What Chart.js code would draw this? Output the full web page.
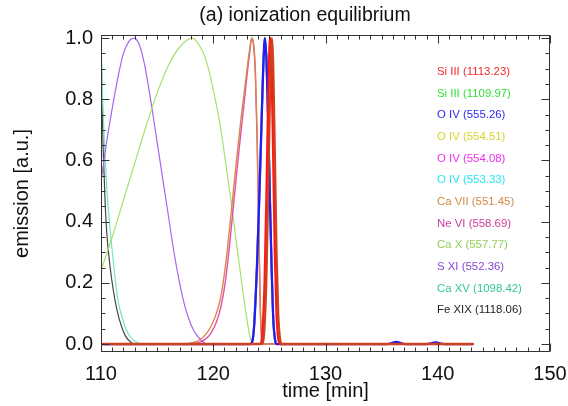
<!DOCTYPE html>
<html><head><meta charset="utf-8">
<script src="https://cdn.jsdelivr.net/npm/chart.js@4/dist/chart.umd.min.js"></script>
<style>html,body{margin:0;padding:0;background:#fff;overflow:hidden}canvas{display:block}</style>
</head><body>
<canvas id="c" width="568" height="406"></canvas>
<script>
// ---- text ----
const titleText = "(a) ionization equilibrium";
const xTitle = "time [min]";
const yTitle = "emission [a.u.]";
const xTickLabels = [110, 120, 130, 140, 150];
const yTickLabels = [0.0, 0.2, 0.4, 0.6, 0.8, 1.0];
const seriesNames = ["Si III (1113.23)", "Si III (1109.97)", "O IV (555.26)", "O IV (554.51)", "O IV (554.08)", "O IV (553.33)",
  "Ca VII (551.45)", "Ne VI (558.69)", "Ca X (557.77)", "S XI (552.36)", "Ca XV (1098.42)", "Fe XIX (1118.06)"];
const legendColors = ["#f22a2a", "#36e036", "#2a2af0", "#d6d628", "#f02cf0", "#28e4f0",
  "#d08a46", "#c83c9c", "#92d052", "#8a46d2", "#34c890", "#222222"];

// ---- data (time [min], emission [a.u.]) ----
const siIII1113_t = [110, 124.2, 124.4, 124.6, 124.8, 124.95, 125.08, 125.2, 125.35, 125.5, 125.65, 125.8, 125.95, 143.1];
const siIII1113_v = [0, 0, 0.04, 0.22, 0.58, 0.88, 1.0, 0.92, 0.62, 0.3, 0.1, 0.02, 0, 0];
const siIII1110_t = [110, 124.35, 124.55, 124.75, 124.95, 125.1, 125.23, 125.35, 125.5, 125.65, 125.8, 125.95, 126.1, 143.1];
const siIII1110_v = [0, 0, 0.04, 0.22, 0.58, 0.88, 1.0, 0.92, 0.62, 0.3, 0.1, 0.02, 0, 0];
const oIV555_t = [110, 123.3, 123.6, 123.9, 124.1, 124.3, 124.45, 124.6, 124.75, 124.9, 125.05, 125.2, 125.35, 125.5, 125.65, 135.5, 136.3, 137.1, 139.0, 139.8, 140.6, 143.1];
const oIV555_v = [0, 0, 0.04, 0.26, 0.48, 0.72, 0.9, 1.0, 0.92, 0.72, 0.47, 0.25, 0.08, 0.015, 0, 0, 0.007, 0, 0, 0.005, 0, 0];
const oIV554a_t = [110, 123.3, 123.6, 123.9, 124.1, 124.3, 124.45, 124.6, 124.75, 124.9, 125.05, 125.2, 125.35, 125.5, 125.65, 143.1];
const oIV554a_v = [0, 0, 0.04, 0.26, 0.48, 0.72, 0.9, 1.0, 0.92, 0.72, 0.47, 0.25, 0.08, 0.015, 0, 0];
const oIV554b_t = [110, 123.3, 123.6, 123.9, 124.1, 124.3, 124.45, 124.6, 124.75, 124.9, 125.05, 125.2, 125.35, 125.5, 125.65, 143.1];
const oIV554b_v = [0, 0, 0.04, 0.26, 0.48, 0.72, 0.9, 1.0, 0.92, 0.72, 0.47, 0.25, 0.08, 0.015, 0, 0];
const oIV553_t = [110, 123.3, 123.6, 123.9, 124.1, 124.3, 124.45, 124.6, 124.75, 124.9, 125.05, 125.2, 125.35, 125.5, 125.65, 143.1];
const oIV553_v = [0, 0, 0.04, 0.26, 0.48, 0.72, 0.9, 1.0, 0.92, 0.72, 0.47, 0.25, 0.08, 0.015, 0, 0];
const caVII_t = [110, 117.5, 118.3, 118.8, 119.3, 119.8, 120.2, 120.6, 120.9, 121.2, 121.6, 122.1, 122.5, 123.0, 123.25, 123.45, 123.6, 123.75, 123.9, 124.0, 124.1, 124.2, 124.3, 124.45, 143.1];
const caVII_v = [0, 0, 0.006, 0.014, 0.03, 0.058, 0.092, 0.142, 0.205, 0.29, 0.43, 0.61, 0.745, 0.895, 0.965, 1.0, 0.98, 0.9, 0.7, 0.5, 0.3, 0.12, 0.03, 0, 0];
const neVI_t = [110, 118.0, 118.8, 119.3, 119.8, 120.3, 120.7, 121.1, 121.5, 121.9, 122.3, 122.7, 123.0, 123.25, 123.42, 123.6, 123.75, 123.9, 124.0, 124.1, 124.2, 124.35, 143.1];
const neVI_v = [0, 0, 0.006, 0.016, 0.036, 0.074, 0.125, 0.21, 0.34, 0.49, 0.635, 0.77, 0.875, 0.955, 1.0, 0.97, 0.88, 0.68, 0.48, 0.28, 0.1, 0, 0];
const caX_t = [110, 111, 112, 113, 114, 115, 116, 117, 118.1, 119, 119.5, 120, 120.5, 121, 121.5, 122, 122.5, 123, 123.3, 123.5, 143.1];
const caX_v = [0.24, 0.35, 0.47, 0.59, 0.71, 0.82, 0.91, 0.97, 1.0, 0.96, 0.91, 0.83, 0.74, 0.62, 0.49, 0.35, 0.21, 0.08, 0.02, 0, 0];
const sXI_t = [110, 110.5, 111, 111.5, 112, 112.5, 112.9, 113.4, 113.9, 114.5, 115, 115.5, 116, 116.5, 117, 117.5, 118, 118.5, 119, 119.4, 143.1];
const sXI_v = [0.53, 0.66, 0.77, 0.87, 0.95, 0.99, 1.0, 0.98, 0.91, 0.78, 0.66, 0.54, 0.42, 0.3, 0.2, 0.12, 0.065, 0.03, 0.01, 0, 0];
const caXV_t = [110, 110.15, 110.3, 110.5, 110.8, 111.1, 111.5, 111.9, 112.4, 113, 113.6, 143.1];
const caXV_v = [1.0, 0.8, 0.66, 0.52, 0.38, 0.27, 0.145, 0.085, 0.035, 0.01, 0, 0];
const feXIX_t = [110, 110.1, 110.2, 110.35, 110.5, 110.8, 111.1, 111.4, 111.8, 112.2, 112.7, 113, 143.1];
const feXIX_v = [1.0, 0.78, 0.63, 0.48, 0.37, 0.255, 0.175, 0.115, 0.06, 0.025, 0.004, 0, 0];

const pts = (t, v) => t.map((x, i) => ({x: x, y: v[i]}));
const FONT = "'Liberation Sans', Arial, Helvetica, sans-serif";

// drawing order: first listed is on top
const ds = (label, t, v, color, w) => ({label, data: pts(t, v), borderColor: color, borderWidth: w,
  pointRadius: 0, fill: false, cubicInterpolationMode: 'monotone', borderJoinStyle: 'round', borderCapStyle: 'round'});
const datasets = [
  ds(seriesNames[1], siIII1110_t, siIII1110_v, '#c8461e', 2),
  ds(seriesNames[0], siIII1113_t, siIII1113_v, '#ff1a1a', 2.6),
  ds(seriesNames[2], oIV555_t, oIV555_v, '#1e1ef5', 2.3),
  ds(seriesNames[3], oIV554a_t, oIV554a_v, '#e0e020', 2),
  ds(seriesNames[4], oIV554b_t, oIV554b_v, '#f020f0', 2),
  ds(seriesNames[5], oIV553_t, oIV553_v, '#20e8f0', 2),
  ds(seriesNames[6], caVII_t, caVII_v, '#d8884c', 1.4),
  ds(seriesNames[7], neVI_t, neVI_v, '#e050b0', 1.4),
  ds(seriesNames[8], caX_t, caX_v, '#a6e070', 1.2),
  ds(seriesNames[9], sXI_t, sXI_v, '#a466f0', 1.2),
  ds(seriesNames[10], caXV_t, caXV_v, '#74e6bc', 1.2),
  ds(seriesNames[11], feXIX_t, feXIX_v, '#444444', 1.2)
];

const decor = {
  id: 'decor',
  afterDraw(chart) {
    const {ctx, chartArea: a, scales: {x, y}} = chart;
    ctx.save();
    ctx.strokeStyle = '#333';
    ctx.lineWidth = 1;
    const L = Math.round(a.left) + 0.5, R = Math.round(a.right) - 0.5, T = Math.round(a.top) + 0.5, B = Math.round(a.bottom) - 0.5;
    ctx.strokeRect(L, T, R - L, B - T);
    ctx.beginPath();
    for (let v = xTickLabels[0]; v <= xTickLabels[xTickLabels.length - 1]; v += 1) {
      const px = Math.round(x.getPixelForValue(v)) + 0.5;
      const len = (v % 10 === 0) ? 8 : 4;
      ctx.moveTo(px, B); ctx.lineTo(px, B - len);
      ctx.moveTo(px, T); ctx.lineTo(px, T + len);
    }
    for (let k = 0; k <= 20; k++) {
      const v = k * 0.05;
      const py = Math.round(y.getPixelForValue(v)) + 0.5;
      const len = (k % 4 === 0) ? 8 : 4;
      ctx.moveTo(L, py); ctx.lineTo(L + len, py);
      ctx.moveTo(R, py); ctx.lineTo(R - len, py);
    }
    ctx.stroke();
    // title
    ctx.fillStyle = '#111';
    ctx.font = '19.5px ' + FONT;
    ctx.textAlign = 'center';
    ctx.textBaseline = 'middle';
    ctx.fillText(titleText, 305, 16);
    // legend (coloured text)
    ctx.font = '11.4px ' + FONT;
    ctx.textAlign = 'left';
    seriesNames.forEach((n, i) => {
      ctx.fillStyle = legendColors[i];
      ctx.fillText(n, 437, 72 + i * 21.66);
    });
    ctx.restore();
  }
};

new Chart(document.getElementById('c'), {
  type: 'line',
  data: {datasets},
  options: {
    responsive: false,
    animation: false,
    devicePixelRatio: 1,
    layout: {padding: {top: 35, right: 18, left: 0, bottom: 0}},
    plugins: {legend: {display: false}, tooltip: {enabled: false}, title: {display: false}},
    scales: {
      x: {
        type: 'linear', min: 110, max: 150,
        grid: {display: false, drawTicks: false}, border: {display: false},
        afterBuildTicks: s => { s.ticks = xTickLabels.map(v => ({value: v})); },
        afterFit: s => { s.height = 54; s.paddingLeft = 0; s.paddingRight = 0; },
        ticks: {color: '#111', font: {family: FONT, size: 20}, padding: 10, maxRotation: 0, autoSkip: false,
          callback: v => String(v)},
        title: {display: true, text: xTitle, color: '#111', font: {family: FONT, size: 20}, padding: {top: 0, bottom: 3}}
      },
      y: {
        type: 'linear', min: -0.026, max: 1.01,
        grid: {display: false, drawTicks: false}, border: {display: false},
        afterBuildTicks: s => { s.ticks = yTickLabels.map(v => ({value: v})); },
        afterFit: s => { s.width = 101; s.paddingTop = 0; s.paddingBottom = 0; },
        ticks: {color: '#111', font: {family: FONT, size: 20}, padding: 8, autoSkip: false,
          callback: v => Number(v).toFixed(1)},
        title: {display: true, text: yTitle, color: '#111', font: {family: FONT, size: 20}, padding: {top: 10, bottom: 0}}
      }
    }
  },
  plugins: [decor]
});
</script>
</body></html>
